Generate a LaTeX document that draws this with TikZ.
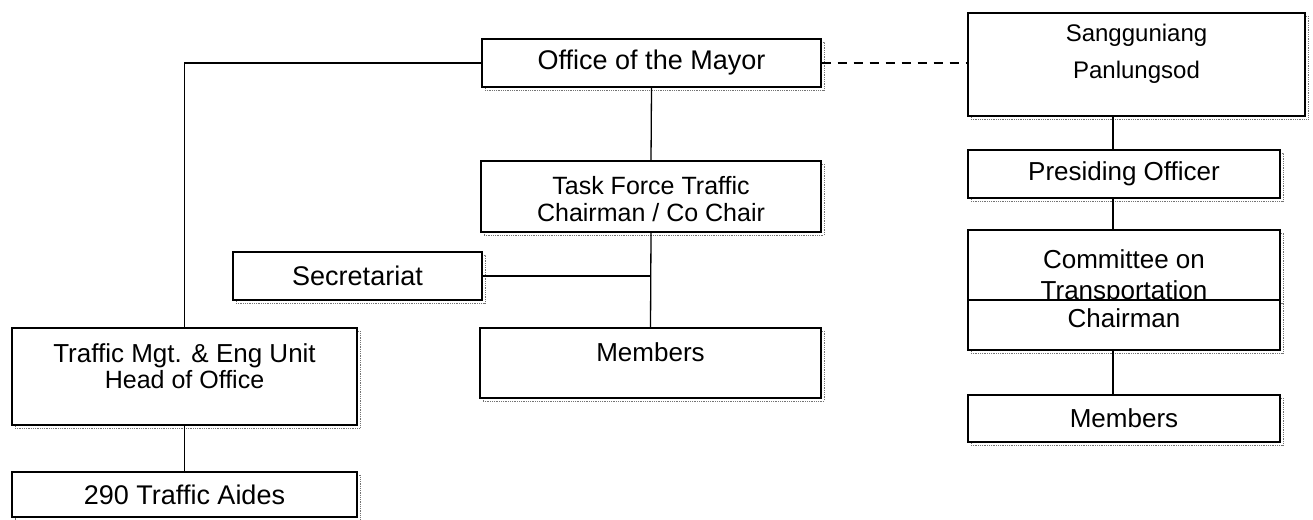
\documentclass[tikz,border=0pt]{standalone}
\usepackage{fontspec}
\setmainfont{Liberation Sans}
\usetikzlibrary{positioning,shadows}

\begin{document}
\begin{tikzpicture}[x=1pt,y=-1pt,
		box/.style={draw,line width=1.3pt,fill=white,inner sep=0pt,
			drop shadow={shadow xshift=3pt,shadow yshift=-3pt,opacity=1,fill=none,draw=black!55,densely dotted,line width=0.8pt}},
		lbl/.style={font=\fontsize{26}{31}\selectfont,align=center,inner sep=0pt},
		link/.style={line width=1.3pt}]
	\useasboundingbox (0,0) rectangle (1313,519);
	\coordinate (spine) at (1113,0);
	% mayor side
	\node[box,lbl,font=\fontsize{27}{31}\selectfont,minimum width=339,minimum height=48] (mayor) at (651.5,63) {Office of the Mayor};
	\node[box,minimum width=340,minimum height=71] (task) at (651,196.5) {};
	\node[lbl,font=\fontsize{25}{27}\selectfont,below=16pt of task.north] (task-txt) {Task Force Traffic\\Chairman / Co Chair};
	\node[box,lbl,font=\fontsize{27}{31}\selectfont,minimum width=249,minimum height=48] (secr) at (357.5,276) {Secretariat};
	\node[box,minimum width=341,minimum height=70] (memb) at (650.5,363) {};
	\node[lbl,below=15.5pt of memb.north] (memb-txt) {Members};
	\node[box,minimum width=345,minimum height=97] (tmeu) at (184.5,376.5) {};
	\node[lbl,font=\fontsize{26}{26}\selectfont,below=16pt of tmeu.north] (tmeu-txt) {Traffic Mgt. \& Eng Unit\\{\fontsize{25}{26}\selectfont Head of Office}};
	\node[box,lbl,font=\fontsize{27}{31}\selectfont,minimum width=345,minimum height=45] (aides) at (184.5,494.5) {290 Traffic Aides};
	% council side
	\node[box,minimum width=337,minimum height=103] (sang) at (1136.5,64.5) {};
	\node[lbl,font=\fontsize{24}{37}\selectfont,below=12pt of sang.north] (sang-txt) {Sangguniang\\Panlungsod};
	\node[box,lbl,minimum width=312,minimum height=48] (pres) at (1124,174) {Presiding Officer};
	\node[box,minimum width=312,minimum height=70] (comm) at (1124,265) {};
	\node[lbl,below=20pt of comm.north] (comm-txt) {Committee on\\Transportation};
	\node[box,minimum width=312,minimum height=50] (chair) at (1124,325) {};
	\node[lbl,below=9pt of chair.north] (chair-txt) {Chairman};
	\node[box,lbl,minimum width=312,minimum height=47] (rmemb) at (1124,418.5) {Members};
	% connectors
	\draw[link] (mayor.west) -| (tmeu.north);
	\draw[link] (tmeu.south) -- (aides.north);
	\draw[link] (mayor.south) -- (task.north);
	\draw[link] (task.south) -- (memb.north);
	\draw[link] (secr.east) -- (secr.east -| task.south);
	\draw[link,dash pattern=on 9pt off 7pt] (mayor.east) -- (mayor.east -| sang.west);
	\draw[link] (sang.south -| spine) -- (pres.north -| spine);
	\draw[link] (pres.south -| spine) -- (comm.north -| spine);
	\draw[link] (chair.south -| spine) -- (rmemb.north -| spine);
\end{tikzpicture}
\end{document}
